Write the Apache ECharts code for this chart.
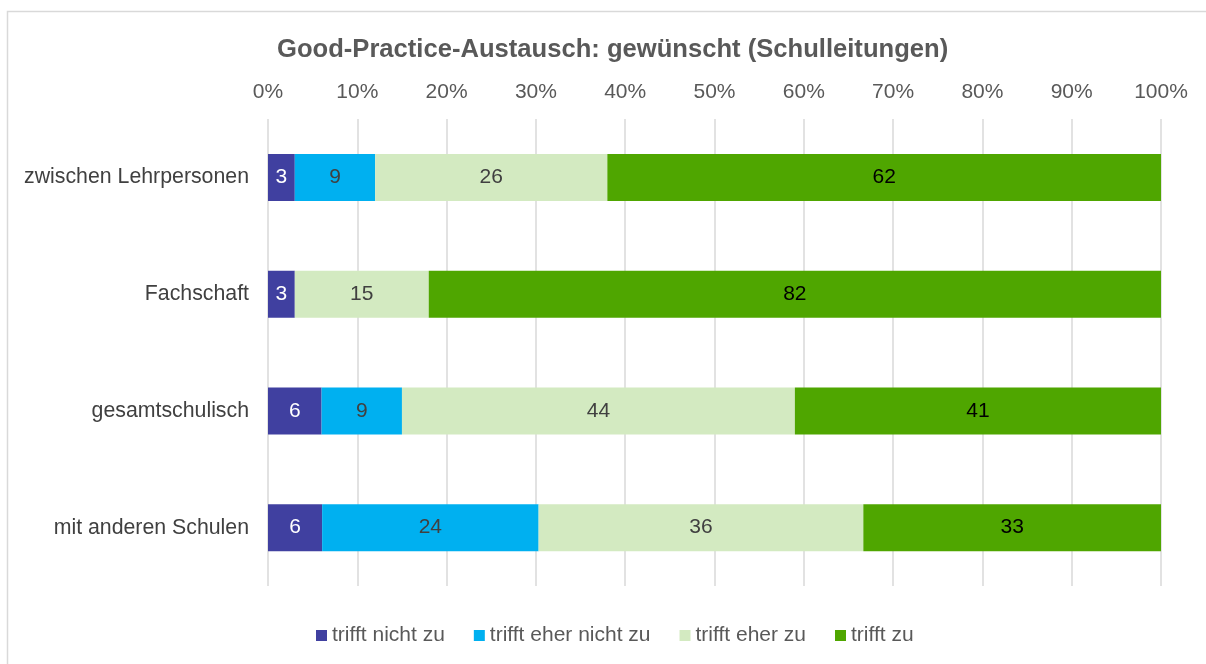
<!DOCTYPE html>
<html>
<head>
<meta charset="utf-8">
<script src="https://cdn.jsdelivr.net/npm/echarts@6/dist/echarts.min.js"></script>
<style>
  html, body { margin: 0; padding: 0; background: #fff; }
  #chart { width: 1206px; height: 664px; }
</style>
</head>
<body>
<div id="chart"></div>
<script>
// Kategorien (von oben nach unten)
const categories = ['zwischen Lehrpersonen', 'Fachschaft', 'gesamtschulisch', 'mit anderen Schulen']

// Werte in Prozent, wie im Diagramm beschriftet
const nichtZu = [3, 3, 6, 6]
const eherNichtZu = [9, 0, 9, 24]
const eherZu = [26, 15, 44, 36]
const zu = [62, 82, 41, 33]

const seriesNames = ['trifft nicht zu', 'trifft eher nicht zu', 'trifft eher zu', 'trifft zu']
const seriesColors = ['#4040A0', '#00B0F0', '#D3EAC1', '#4FA600']
const labelColors = ['#ffffff', '#404040', '#404040', '#000000']

const xTicks = [0, 10, 20, 30, 40, 50, 60, 70, 80, 90, 100]

const allSeries = [nichtZu, eherNichtZu, eherZu, zu]
// 100%-gestapelt: jede Zeile auf ihre Summe normieren
const rowSums = categories.map((c, i) => allSeries.reduce((s, arr) => s + arr[i], 0))

const chart = echarts.init(document.getElementById('chart'))

const option = {
    animation: false,
    backgroundColor: '#fff',
    textStyle: { fontFamily: 'Liberation Sans, Arial, sans-serif' },
    graphic: [{
        type: 'rect',
        shape: { x: 7.5, y: 11.5, width: 1220, height: 700 },
        style: { fill: 'none', stroke: '#d9d9d9', lineWidth: 1.5 },
        silent: true
    }],
    title: {
        text: 'Good-Practice-Austausch: gewünscht (Schulleitungen)',
        left: 272,
        top: 32,
        textStyle: { fontSize: 25.6, fontWeight: 'bold', color: '#595959', fontFamily: 'Liberation Sans, Arial, sans-serif' }
    },
    legend: {
        bottom: 13,
        left: 311,
        itemWidth: 11,
        itemHeight: 11,
        itemGap: 29,
        icon: 'rect',
        textStyle: { fontSize: 21, color: '#595959' },
        data: seriesNames
    },
    grid: { left: 268, right: 45, top: 119, bottom: 78 },
    xAxis: {
        type: 'value',
        position: 'top',
        min: 0,
        max: 100,
        interval: 10,
        axisLine: { show: false },
        axisTick: { show: false },
        axisLabel: {
            fontSize: 21,
            color: '#595959',
            margin: 16,
            formatter: v => xTicks.includes(v) ? v + '%' : ''
        },
        splitLine: { lineStyle: { color: '#d9d9d9', width: 1.5 } }
    },
    yAxis: {
        type: 'category',
        inverse: true,
        data: categories,
        axisLine: { show: false },
        axisTick: { show: false },
        axisLabel: { fontSize: 21.3, color: '#404040', margin: 19 }
    },
    series: allSeries.map((arr, k) => ({
        name: seriesNames[k],
        type: 'bar',
        stack: 'total',
        barWidth: 47,
        itemStyle: { color: seriesColors[k] },
        label: {
            show: true,
            position: 'inside',
            fontSize: 21,
            color: labelColors[k],
            formatter: p => p.data.raw ? String(p.data.raw) : ''
        },
        data: arr.map((v, i) => ({ value: v / rowSums[i] * 100, raw: v }))
    }))
}

chart.setOption(option)
</script>
</body>
</html>
